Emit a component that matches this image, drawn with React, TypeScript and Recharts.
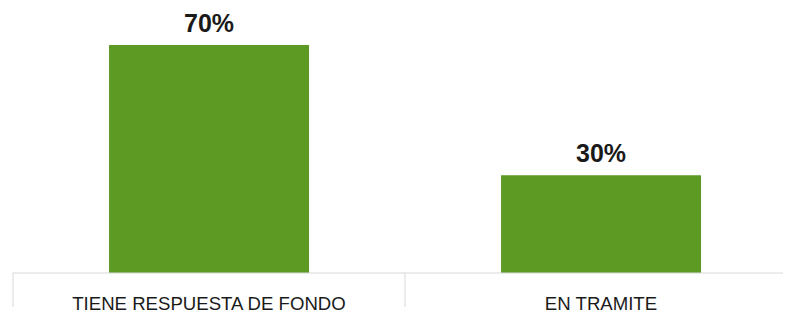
import { BarChart, Bar, XAxis, YAxis, LabelList } from 'recharts';

const categories = ['TIENE RESPUESTA DE FONDO', 'EN TRAMITE'];
const percents = [70, 30];

const chartData = categories.map((name, i) => ({ name, value: percents[i] }));

const CHART_W = 800;
const CHART_H = 314;
const MARGIN = { top: 45, right: 3, bottom: 0, left: 13 };
const BAND = (CHART_W - MARGIN.left - MARGIN.right) / categories.length;

function CategoryTick(props: any) {
  const { x, y, payload, index } = props;
  const left = x - BAND / 2;
  const right = x + BAND / 2;
  return (
    <g>
      <line x1={left} y1={y} x2={left} y2={y + 34} stroke="#d9d9d9" strokeWidth={1} />
      {index === categories.length - 1 && (
        <line x1={right} y1={y} x2={right} y2={y + 34} stroke="#d9d9d9" strokeWidth={1} />
      )}
      <text
        x={x}
        y={y + 37}
        textAnchor="middle"
        fill="#1a1a1a"
        fontSize={18.6}
        fontFamily="Liberation Sans, Arial, sans-serif"
      >
        {payload.value}
      </text>
    </g>
  );
}

export default function App() {
  return (
    <div style={{ margin: '-8px 0 0 -8px', width: 791, height: CHART_H, overflow: 'hidden', background: '#fff' }}>
      <BarChart width={CHART_W} height={CHART_H} data={chartData} margin={MARGIN} barCategoryGap="24.5%">
        <XAxis
          dataKey="name"
          height={41}
          axisLine={{ stroke: '#d9d9d9' }}
          tickLine={false}
          tickSize={0}
          tickMargin={0}
          interval={0}
          tick={<CategoryTick />}
        />
        <YAxis hide domain={[0, 70]} />
        <Bar dataKey="value" fill="#5c9a24" isAnimationActive={false}>
          <LabelList
            dataKey="value"
            position="top"
            offset={13}
            formatter={(v: any) => `${v}%`}
            fill="#1a1a1a"
            fontSize={25}
            fontWeight="bold"
            fontFamily="Liberation Sans, Arial, sans-serif"
          />
        </Bar>
      </BarChart>
    </div>
  );
}
